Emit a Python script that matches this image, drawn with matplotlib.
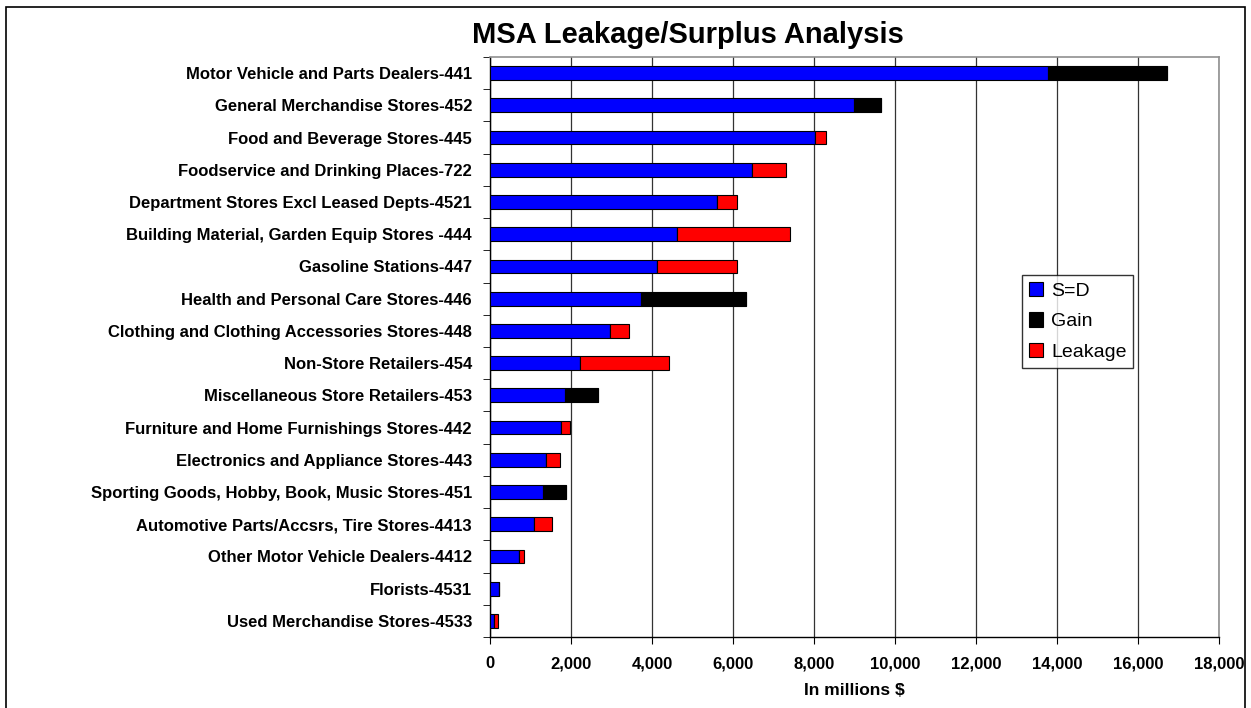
import numpy as np
import matplotlib
matplotlib.use("Agg")
from matplotlib import pyplot as plt
from matplotlib.patches import Rectangle

plt.rcParams['font.family'] = ['Liberation Sans', 'DejaVu Sans']

categories = [
    "Motor Vehicle and Parts Dealers-441",
    "General Merchandise Stores-452",
    "Food and Beverage Stores-445",
    "Foodservice and Drinking Places-722",
    "Department Stores Excl Leased Depts-4521",
    "Building Material, Garden Equip Stores -444",
    "Gasoline Stations-447",
    "Health and Personal Care Stores-446",
    "Clothing and Clothing Accessories Stores-448",
    "Non-Store Retailers-454",
    "Miscellaneous Store Retailers-453",
    "Furniture and Home Furnishings Stores-442",
    "Electronics and Appliance Stores-443",
    "Sporting Goods, Hobby, Book, Music Stores-451",
    "Automotive Parts/Accsrs, Tire Stores-4413",
    "Other Motor Vehicle Dealers-4412",
    "Florists-4531",
    "Used Merchandise Stores-4533",
]

s_equals_d = [13780, 8980, 8025, 6470, 5600, 4610, 4135, 3730, 2955, 2230,
              1860, 1755, 1390, 1310, 1095, 725, 222, 108]
gain = [2940, 685, 0, 0, 0, 0, 0, 2600, 0, 0,
        815, 0, 0, 565, 0, 0, 0, 0]
leakage = [0, 0, 280, 840, 500, 2805, 1975, 0, 485, 2190,
           0, 220, 330, 0, 445, 115, 0, 82]

xticks = list(range(0, 18001, 2000))

# -----------------------
# plotting
# -----------------------

fig = plt.figure(figsize=(12.51, 7.08), dpi=100)
ax = fig.add_axes([490 / 1251, 1 - 637 / 708, (1219 - 490) / 1251, (637 - 57) / 708])

y = np.arange(len(categories))
h = 0.43
ax.barh(y, s_equals_d, height=h, color="#0000ff", edgecolor="black", linewidth=0.8, label="S=D", zorder=3)
ax.barh(y, gain, height=h, left=s_equals_d, color="black", edgecolor="black", linewidth=0.8, label="Gain", zorder=3)
ax.barh(y, leakage, height=h, left=np.array(s_equals_d) + np.array(gain), color="#ff0000",
        edgecolor="black", linewidth=0.8, label="Leakage", zorder=3)

ax.set_xlim(0, 18000)
ax.set_ylim(len(categories) - 0.5, -0.5)
ax.set_xticks(xticks)
ax.set_xticklabels([f"{v:,}" for v in xticks], fontweight="bold", fontsize=12)
ax.set_yticks(y)
ax.set_yticklabels(categories, fontweight="bold", fontsize=12)
ax.set_yticks(np.arange(-0.5, len(categories), 1), minor=True)
ax.tick_params(axis="y", which="major", length=0, pad=13)
ax.tick_params(axis="y", which="minor", length=5, direction="out")
ax.tick_params(axis="x", length=5, direction="out", pad=9)

ax.grid(axis="x", color="#333333", linewidth=0.9, zorder=0)
for s in ("top", "right"):
    ax.spines[s].set_color("#909090")
    ax.spines[s].set_linewidth(1.2)
for s in ("left", "bottom"):
    ax.spines[s].set_color("black")
    ax.spines[s].set_linewidth(1.0)

ax.set_xlabel("In millions $", fontweight="bold", fontsize=12.5, labelpad=8)
fig.text(688 / 1251, 1 - 35 / 708, "MSA Leakage/Surplus Analysis",
         ha="center", va="center", fontsize=21, fontweight="bold")

leg = ax.legend(loc="upper left", bbox_to_anchor=((1022 - 490) / 729, (637 - 275) / 580),
                frameon=True, fancybox=False, fontsize=14, handlelength=0.75, handleheight=0.75,
                handletextpad=0.4, borderpad=0.35, labelspacing=0.65, borderaxespad=0)
leg.get_frame().set_edgecolor("black")
leg.get_frame().set_linewidth(1.0)
leg.set_zorder(5)

fig.patches.append(Rectangle((6 / 1251, -0.01), 1239 / 1251, 1.01 - 7 / 708, transform=fig.transFigure,
                             fill=False, edgecolor="black", linewidth=1.2))

fig.savefig("out.png", dpi=100)
